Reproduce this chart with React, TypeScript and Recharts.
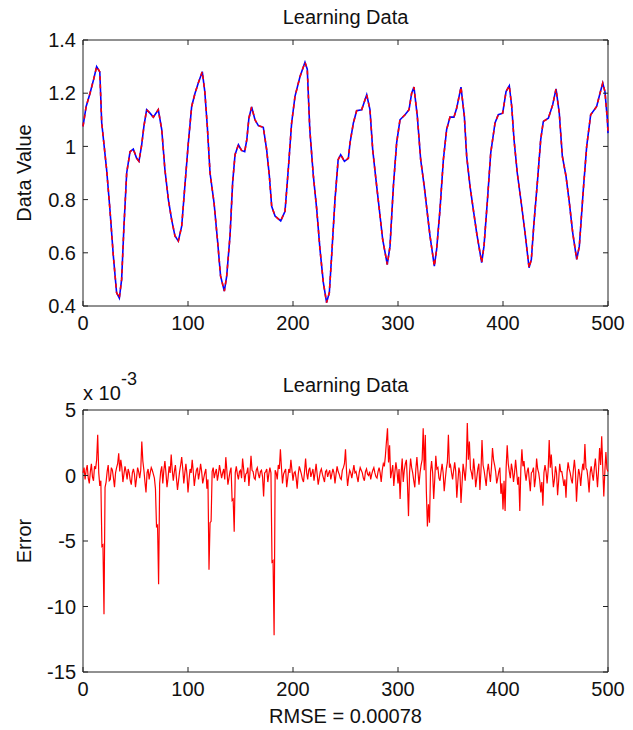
import React from "react";
import { LineChart, Line, XAxis, YAxis, ReferenceArea } from "recharts";

// ---- top panel: sampled positions (x) and the data value read at each ----
const sampleX = [
  0, 3, 6.7, 10, 13, 16, 17.8, 22.5, 25.7, 28.9, 32, 34.6, 36.8, 39, 41.6, 44.8, 47.9, 51, 53.3, 55.9,
  58, 60.6, 63.8, 67, 71.7, 75, 78, 81.3, 84.4, 87.6, 90.8, 94, 97, 100.3, 103.5, 106.7, 109.8, 113.6, 116, 118.4,
  121, 124.8, 128.3, 131, 134.6, 136.8, 140, 142.5, 144.8, 148, 151, 154, 156, 158, 160.6, 163.8, 167, 171.7, 174.9, 177.5,
  179.7, 182.9, 188.3, 192.4, 195.5, 198.7, 201.9, 206.7, 211.4, 213.6, 216, 219.4, 222.6, 225.7, 228.9, 232, 234.6, 236.8, 240, 243,
  245.4, 249, 252.7, 254.3, 257.5, 260.6, 265.4, 270.2, 273.3, 275.9, 279, 282.2, 285.4, 289.8, 292.4, 295.6, 298.7, 301.9, 306.7, 310.5,
  313, 315.2, 318.4, 321.6, 325, 327.9, 330.5, 334.6, 336.8, 340, 343.2, 346.3, 349.5, 353.3, 355.9, 360, 363.2, 365.4, 368.6, 371.7,
  374.9, 379.7, 381.9, 385, 388.3, 392.4, 395.5, 399.7, 402.9, 406, 408.3, 410.5, 413.6, 417.8, 421, 424.8, 427, 429.5, 432.7, 435.9,
  438.4, 443.2, 447.3, 450.5, 453.6, 456.5, 460, 463.2, 466.4, 470.2, 472.7, 476.5, 479.7, 483.5, 489.2, 492.4, 495, 497.1, 499.4, 500,
];
const dataValue = [
  1.075, 1.15, 1.2, 1.25, 1.3, 1.28, 1.09, 0.913, 0.76, 0.588, 0.45, 0.43, 0.5, 0.7, 0.9, 0.98, 0.99, 0.956, 0.944, 1.006,
  1.075, 1.138, 1.125, 1.11, 1.138, 1.063, 0.913, 0.8, 0.725, 0.663, 0.644, 0.7, 0.85, 1.013, 1.15, 1.2, 1.238, 1.281, 1.206, 1.075,
  0.9, 0.788, 0.638, 0.513, 0.456, 0.51, 0.663, 0.863, 0.969, 1.006, 0.985, 0.98, 1.025, 1.106, 1.148, 1.1, 1.078, 1.072, 0.988, 0.888,
  0.775, 0.738, 0.72, 0.756, 0.913, 1.088, 1.188, 1.263, 1.316, 1.29, 1.063, 0.888, 0.763, 0.613, 0.488, 0.413, 0.45, 0.588, 0.8, 0.95,
  0.969, 0.944, 0.955, 1.013, 1.088, 1.134, 1.138, 1.194, 1.138, 0.988, 0.875, 0.763, 0.65, 0.556, 0.625, 0.85, 1.013, 1.1, 1.119, 1.138,
  1.2, 1.223, 1.113, 0.95, 0.85, 0.75, 0.663, 0.55, 0.613, 0.763, 0.95, 1.063, 1.11, 1.11, 1.144, 1.223, 1.113, 0.963, 0.85, 0.763,
  0.675, 0.563, 0.625, 0.788, 0.975, 1.088, 1.119, 1.125, 1.206, 1.228, 1.15, 1.025, 0.9, 0.775, 0.675, 0.544, 0.575, 0.713, 0.863, 1.025,
  1.094, 1.106, 1.156, 1.216, 1.125, 0.963, 0.888, 0.788, 0.675, 0.575, 0.625, 0.838, 1.0, 1.119, 1.15, 1.2, 1.238, 1.206, 1.1, 1.05,
];

// ---- bottom panel: error (in units of 1e-3), one value per sample 0..500 ----
const errorE3 = [
  0.2, 0.6, -0.3, 0.4, 0.8, -0.2, -0.6, 0.3, 0.9, -0.1, -0.4, 0.7, 0.5, 1.2, 3.1, 0.2, -0.8, -0.4, -5.4, -5.3,
  -10.6, -0.9, -0.5, 0.3, 0.8, -0.4, -0.3, 0.6, 0.4, -0.2, -0.9, 0.2, 0.6, 0.9, 1.7, 0.3, 1.2, 0.6, -0.5, 0.1,
  0.7, 0.3, -0.3, 0.5, 0.2, -0.4, -0.7, 0.2, 0.5, 0.1, -0.9, -0.2, 0.6, 0.3, -0.2, 0.4, 2.6, 1.1, 0.4, -0.5,
  -1.3, 0.2, 0.5, -0.3, 0.2, 0.6, 0.4, 0.1, -0.2, -1.0, -3.9, -3.8, -8.3, -0.6, 0.3, 0.7, -0.6, 0.4, 1.1, 0.2,
  -0.9, -0.2, 0.7, 0.2, 1.6, 0.4, -0.4, 0.3, 0.8, -0.2, -1.1, -0.4, 0.3, 0.8, 1.4, 0.5, -0.6, 0.2, 0.9, 0.1,
  -1.3, -0.3, 0.5, 0.2, 1.2, 0.3, -0.8, -0.1, 0.4, 0.6, -0.3, 0.2, 0.9, 0.3, -0.6, -0.2, 0.2, 0.5, -1.0, -0.3,
  -7.2, -3.6, -3.5, 0.3, 0.6, -0.2, 0.2, 0.5, -0.4, 0.1, 0.8, 0.3, -0.2, 0.2, 0.5, -0.3, 1.4, 0.4, -0.7, -0.2,
  0.3, 0.6, -1.9, -1.8, -4.3, 0.2, 0.7, 0.1, -0.3, 0.3, 0.4, -0.2, 1.3, 0.5, -0.5, 0.1, 0.2, 0.6, -0.8, 0.2,
  1.5, 0.4, 0.3, -0.2, -0.3, 0.4, 0.6, 0.1, -0.2, 0.3, 0.4, -0.1, -1.6, 0.2, 0.3, 0.5, -0.5, 0.1, 0.6, 0.2,
  -6.6, -6.5, -12.2, 0.4, 0.2, -0.3, 0.8, 0.5, 2.0, 0.6, -0.6, 0.1, 0.3, 0.5, -0.9, -0.2, 0.5, 0.2, 1.2, 0.4,
  -0.4, 0.2, 0.3, -0.2, -1.0, 0.1, 0.7, 0.4, 0.1, -0.3, -0.5, 0.3, 1.3, 0.2, -0.3, 0.4, 0.6, -0.1, 0.2, 0.5,
  -0.4, 0.2, 0.9, 0.1, -0.7, -0.2, 0.3, 0.5, 0.1, -0.2, -0.5, 0.3, 0.4, -0.1, 0.2, 0.4, -0.3, 0.1, 0.5, 0.2,
  -0.6, 0.1, 0.7, 0.3, 0.1, -0.2, -0.3, 0.4, 0.6, 0.9, 2.0, 0.3, -0.8, -0.1, 0.4, 0.2, -0.2, 0.3, 0.8, 0.2,
  0.3, -0.1, -0.5, 0.2, 0.6, 0.4, 0.2, -0.2, -0.4, 0.3, 0.5, 0.1, 0.0, 0.3, -0.3, 0.1, 0.4, 0.6, 0.2, -0.1,
  -0.2, 0.3, 0.6, 0.2, -0.5, 0.4, 0.9, 0.7, 1.5, 2.6, 3.6, 1.0, 2.3, -0.2, 0.3, 0.8, -0.8, 0.2, 1.0, 0.4,
  -0.6, 0.5, -1.8, 0.2, 1.3, -0.5, 0.4, 0.9, 1.2, -0.6, -3.1, 0.2, 1.3, 0.6, 0.2, -0.4, -0.9, 0.5, 1.4, 0.3,
  -0.7, 0.2, 0.8, 1.2, 3.6, 0.4, 3.1, -1.2, -3.9, -2.2, -3.6, 0.3, 1.1, 0.2, -1.8, -0.3, 1.5, 0.5, 0.6, -0.2,
  -0.4, 0.3, 0.9, 0.2, -1.2, -0.3, 0.5, 1.0, 3.1, 0.6, 0.8, 0.2, -0.3, 0.4, 1.0, 0.3, -1.7, -0.5, 0.6, 0.2,
  -2.1, -0.6, 0.9, 0.3, -0.4, 0.8, 4.0, 1.2, 2.6, 0.5, 0.2, -0.3, 1.3, 0.4, -0.9, -0.2, 0.5, 0.9, -1.1, 0.3,
  2.7, 0.8, 0.4, -0.2, -0.8, 0.3, 0.9, 0.2, -0.5, 0.6, 2.1, 1.2, 0.8, 0.3, -0.6, -0.2, 0.3, 0.6, -1.4, -0.6,
  -2.6, -0.4, -2.7, 0.6, 2.3, 0.9, 0.3, -0.2, 0.9, 0.4, -0.5, 0.2, 1.2, 0.3, -0.7, -0.1, -2.7, 0.5, 2.0, 0.7,
  1.1, 0.2, -0.4, 0.3, 0.6, -0.3, -1.2, 0.2, 0.3, 0.6, -0.9, -0.2, 1.3, 0.5, 0.2, -0.4, -1.3, -0.5, -2.3, 0.2,
  0.8, 0.3, -0.6, 0.4, 2.7, 0.6, 1.6, 0.2, -0.9, -0.3, 0.7, 0.2, -1.5, -0.4, 0.9, 0.3, 0.3, -0.2, -0.8, -0.3,
  -1.7, 0.2, 1.0, 0.5, 0.2, -0.3, -0.6, 0.4, 1.2, 0.3, -2.0, -0.5, 0.5, 0.1, -0.8, 0.2, 0.9, 0.4, 2.4, 0.6,
  0.4, -0.3, -1.3, 0.2, 0.7, 0.1, -0.4, 0.6, 1.3, 0.2, -0.9, 0.4, 2.1, 0.8, 3.0, 0.6, -1.6, 0.3, 1.8, 0.5,
  0.3,
];

const xTicks = [0, 100, 200, 300, 400, 500];
const topYTicks = [0.4, 0.6, 0.8, 1, 1.2, 1.4];
const errYTicks = [-15, -10, -5, 0, 5];
const titles = ["Learning Data", "Learning Data"];
const yLabels = ["Data Value", "Error"];
const xLabel = "RMSE = 0.00078";
const exponentBase = "x 10";
const exponentPower = "-3";

const FONT = '"Liberation Sans", Arial, Helvetica, sans-serif';
const FS = 20;
const INK = "#111";
const AX = "#222";
const PW = 525; // plot width
const TICK = 5;

const topData = sampleX.map((x, i) => ({ x, y: dataValue[i] }));
const errData = errorE3.map((e, i) => ({ x: i, e }));

function makeXTick(ph: number) {
  return (props: any) => {
    const { x, y, payload } = props;
    return (
      <g>
        <line x1={x} y1={y} x2={x} y2={y - TICK} stroke={AX} strokeWidth={1} />
        <line x1={x} y1={y - ph} x2={x} y2={y - ph + TICK} stroke={AX} strokeWidth={1} />
        <text x={x} y={y + 24} textAnchor="middle" fontFamily={FONT} fontSize={FS} fill={INK}>
          {payload.value}
        </text>
      </g>
    );
  };
}

function makeYTick() {
  return (props: any) => {
    const { x, y, payload } = props;
    return (
      <g>
        <line x1={x} y1={y} x2={x + TICK} y2={y} stroke={AX} strokeWidth={1} />
        <line x1={x + PW} y1={y} x2={x + PW - TICK} y2={y} stroke={AX} strokeWidth={1} />
        <text x={x - 7} y={y} dy="0.36em" textAnchor="end" fontFamily={FONT} fontSize={FS} fill={INK}>
          {payload.value}
        </text>
      </g>
    );
  };
}

const textStyle: React.CSSProperties = {
  position: "absolute",
  fontFamily: FONT,
  fontSize: FS,
  lineHeight: `${FS}px`,
  color: INK,
  whiteSpace: "nowrap",
};

export default function App() {
  return (
    <div style={{ position: "absolute", left: 0, top: 0, width: 633, height: 730, background: "#fff", overflow: "hidden" }}>
      <div style={{ position: "absolute", left: 0, top: 0 }}>
        <LineChart width={633} height={340} data={topData} margin={{ top: 40, right: 25, left: 23, bottom: 4 }}>
          <XAxis
            dataKey="x"
            type="number"
            domain={[0, 500]}
            ticks={xTicks}
            height={30}
            axisLine={false}
            tickLine={false}
            tickSize={0}
            tickMargin={0}
            tick={makeXTick(266)}
            interval={0}
          />
          <YAxis
            type="number"
            domain={[0.4, 1.4]}
            ticks={topYTicks}
            width={60}
            axisLine={false}
            tickLine={false}
            tickSize={0}
            tickMargin={0}
            tick={makeYTick()}
            interval={0}
            allowDataOverflow
          />
          <ReferenceArea x1={0} x2={500} y1={0.4} y2={1.4} fill="none" stroke={AX} strokeWidth={1} />
          <Line dataKey="y" stroke="#0000ff" strokeWidth={1.6} dot={false} isAnimationActive={false} />
          <Line dataKey="y" stroke="#ff0000" strokeWidth={1.6} strokeDasharray="4 4" dot={false} isAnimationActive={false} />
        </LineChart>
      </div>
      <div style={{ position: "absolute", left: 0, top: 370 }}>
        <LineChart width={633} height={340} data={errData} margin={{ top: 40, right: 25, left: 23, bottom: 8 }}>
          <XAxis
            dataKey="x"
            type="number"
            domain={[0, 500]}
            ticks={xTicks}
            height={30}
            axisLine={false}
            tickLine={false}
            tickSize={0}
            tickMargin={0}
            tick={makeXTick(262)}
            interval={0}
          />
          <YAxis
            type="number"
            domain={[-15, 5]}
            ticks={errYTicks}
            width={60}
            axisLine={false}
            tickLine={false}
            tickSize={0}
            tickMargin={0}
            tick={makeYTick()}
            interval={0}
            allowDataOverflow
          />
          <ReferenceArea x1={0} x2={500} y1={-15} y2={5} fill="none" stroke={AX} strokeWidth={1} />
          <Line dataKey="e" stroke="#ff0000" strokeWidth={1.2} dot={false} isAnimationActive={false} />
        </LineChart>
      </div>

      <div style={{ ...textStyle, left: 345.5, top: 7, transform: "translateX(-50%)" }}>{titles[0]}</div>
      <div style={{ ...textStyle, left: 345.5, top: 375, transform: "translateX(-50%)" }}>{titles[1]}</div>
      <div style={{ ...textStyle, left: 345.5, top: 706, transform: "translateX(-50%)" }}>{xLabel}</div>
      <div style={{ ...textStyle, left: 24, top: 173, transform: "translate(-50%, -50%) rotate(-90deg)" }}>{yLabels[0]}</div>
      <div style={{ ...textStyle, left: 24, top: 541, transform: "translate(-50%, -50%) rotate(-90deg)" }}>{yLabels[1]}</div>
      <div style={{ ...textStyle, left: 83, top: 383 }}>{exponentBase}</div>
      <div style={{ ...textStyle, left: 121, top: 369, fontSize: 18 }}>{exponentPower}</div>
    </div>
  );
}
